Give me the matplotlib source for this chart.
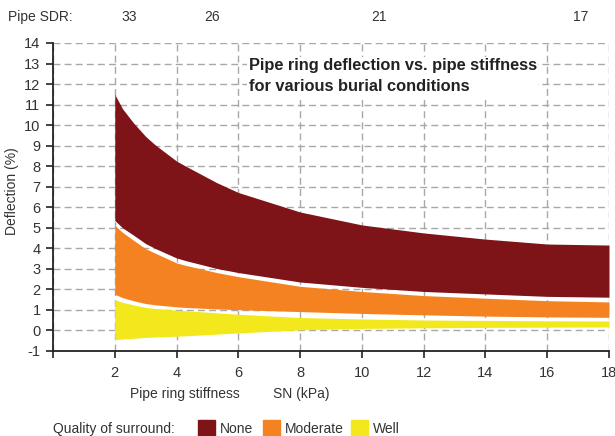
import numpy as np
import matplotlib.pyplot as plt
from matplotlib.patches import Rectangle

plt.rcParams['font.family'] = ['Liberation Sans Narrow', 'Liberation Sans', 'DejaVu Sans']
plt.rcParams['axes.unicode_minus'] = False

sn = [2, 2.25, 2.6, 3, 3.3, 4, 4.3, 5.3, 6, 8, 10, 12, 14, 16, 18]
none_hi = [11.5, 10.8, 10.12, 9.45, 9.05, 8.25, 8.0, 7.2, 6.72, 5.77, 5.14, 4.75, 4.45, 4.21, 4.16]
none_lo = [5.36, 5.0, 4.65, 4.23, 4.0, 3.53, 3.4, 3.02, 2.82, 2.36, 2.1, 1.9, 1.78, 1.66, 1.62]
mod_hi = [5.12, 4.78, 4.4, 3.98, 3.77, 3.29, 3.17, 2.82, 2.62, 2.15, 1.9, 1.7, 1.57, 1.45, 1.39]
mod_lo = [1.76, 1.6, 1.45, 1.31, 1.25, 1.15, 1.12, 1.05, 1.01, 0.92, 0.83, 0.76, 0.7, 0.66, 0.64]
well_hi = [1.5, 1.37, 1.25, 1.12, 1.07, 0.99, 0.96, 0.86, 0.79, 0.63, 0.56, 0.51, 0.49, 0.47, 0.46]
well_lo = [-0.44, -0.42, -0.38, -0.34, -0.32, -0.28, -0.26, -0.18, -0.12, 0.03, 0.1, 0.13, 0.15, 0.16, 0.17]

sdr_labels = ['33', '26', '21', '17']
sdr_pos = [2.2, 4.9, 10.3, 16.85]

colors = {'None': '#7f1418', 'Moderate': '#f58220', 'Well': '#f2e81c'}
txt = '#333333'

fig = plt.figure(figsize=(6.15, 4.36), dpi=100)
ax = fig.add_axes([53/615, 1-351/436, 556/615, 308/436])

ax.fill_between(sn, none_lo, none_hi, color=colors['None'], lw=0, zorder=3)
ax.fill_between(sn, mod_lo, mod_hi, color=colors['Moderate'], lw=0, zorder=3)
ax.fill_between(sn, well_lo, well_hi, color=colors['Well'], lw=0, zorder=3)

ax.set_xlim(0, 18)
ax.set_ylim(-1, 14)
ax.set_xticks(range(0, 19, 2))
ax.set_xticklabels([''] + [str(v) for v in range(2, 19, 2)])
ax.set_yticks(range(-1, 15))
ax.grid(True, color='#a8a8a8', ls=(0, (5, 3)), lw=1, zorder=1)
for s in ['top', 'right']:
    ax.spines[s].set_visible(False)
for s in ['left', 'bottom']:
    ax.spines[s].set_color('#222222')
    ax.spines[s].set_linewidth(1.3)
ax.tick_params(length=5, width=1.2, color='#222222', labelsize=10.5,
               labelcolor=txt, pad=4)
ax.tick_params(axis='x', pad=6)
ax.set_ylabel('Deflection (%)', fontsize=10, color=txt)
ax.yaxis.set_label_coords(-0.062, 0.52)

ax.text(0.352, 0.95, 'Pipe ring deflection vs. pipe stiffness\nfor various burial conditions',
        transform=ax.transAxes, fontsize=11.8, fontweight='bold', color='#222222',
        va='top', ha='left', linespacing=1.5, zorder=5,
        bbox=dict(facecolor='white', edgecolor='none', pad=1))

fig.text(8/615, 1-17/436, 'Pipe SDR:', fontsize=10, color=txt, va='center')
for lab, p in zip(sdr_labels, sdr_pos):
    xf = ax.transData.transform((p, 0))[0] / fig.bbox.width
    fig.text(xf, 1-17/436, lab, fontsize=10, color=txt, va='center', ha='left')

fig.text(130/615, 1-394/436, 'Pipe ring stiffness', fontsize=10, color=txt, va='center')
fig.text(273/615, 1-394/436, 'SN (kPa)', fontsize=10, color=txt, va='center')

fig.text(53/615, 1-429/436, 'Quality of surround:', fontsize=10, color=txt, va='center')
leg_x = [198, 263, 351]
for (name, c), lx in zip(colors.items(), leg_x):
    fig.patches.append(Rectangle((lx/615, 1-437/436), 17/615, 17/436,
                                 transform=fig.transFigure, color=c))
    fig.text((lx+22)/615, 1-429/436, name, fontsize=10, color=txt, va='center')

fig.savefig('out.png', dpi=100)
